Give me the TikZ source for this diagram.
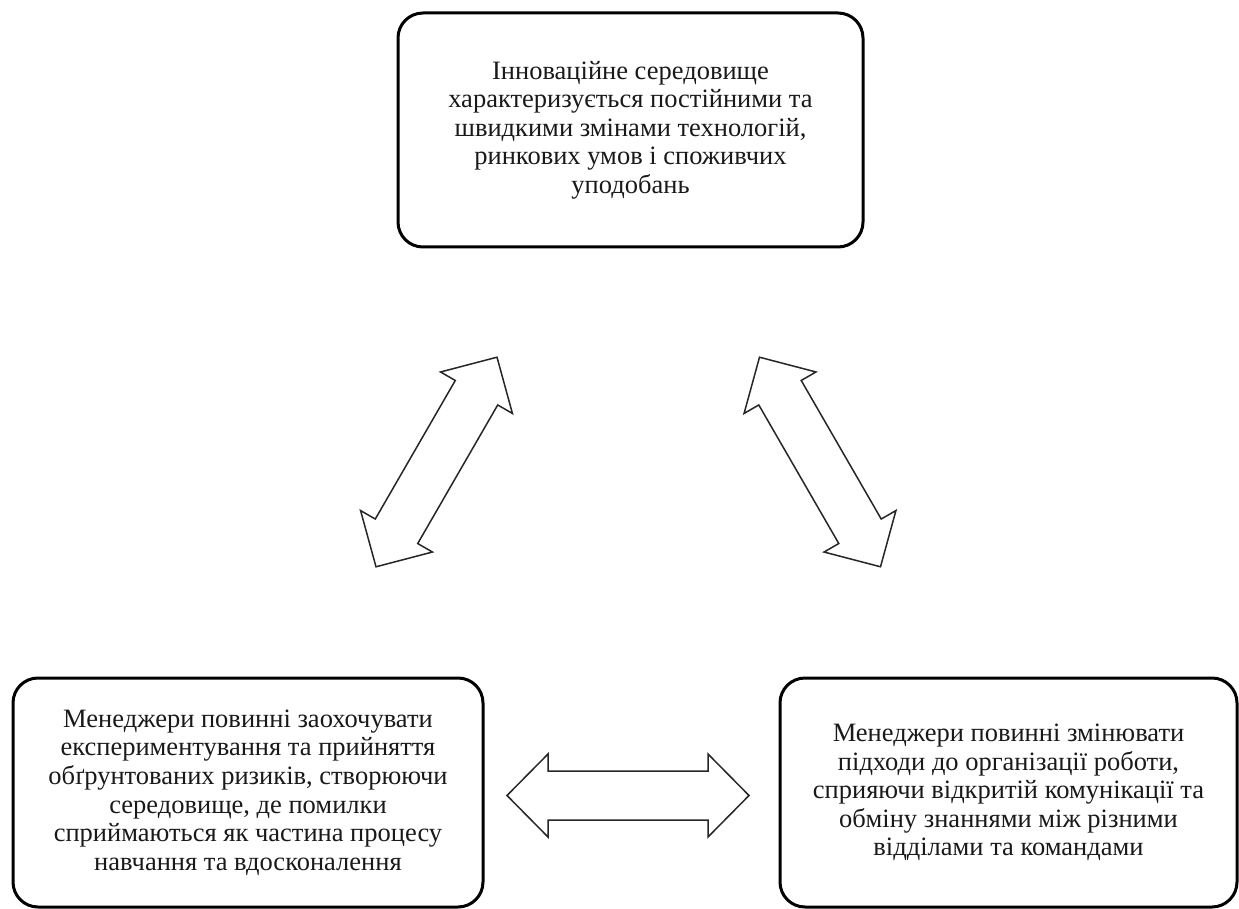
\documentclass[tikz,border=0pt]{standalone}
\usepackage{fontspec}
\setmainfont{Liberation Serif}
\begin{document}
\begin{tikzpicture}[x=1pt,y=-1pt,
  box/.style={draw=black, line width=3pt, rounded corners=25pt, align=center,
    inner sep=0pt, font=\fontsize{26.5}{28.6}\selectfont, text=black!90},
  arrowline/.style={draw=black!85, line width=1.5pt, line join=miter, fill=white}]
\useasboundingbox (0,0) rectangle (1239,909);
\node[box, minimum width=465pt, minimum height=234pt] (top) at (630.5,130)
  {Інноваційне середовище\\характеризується постійними та\\швидкими змінами технологій,\\ринкових умов і споживчих\\уподобань};
\node[box, minimum width=470pt, minimum height=229pt] (bl) at (248,792.5)
  {Менеджери повинні заохочувати\\експериментування та прийняття\\обґрунтованих ризиків, створюючи\\середовище, де помилки\\сприймаються як частина процесу\\навчання та вдосконалення};
\node[box, minimum width=457pt, minimum height=229pt] (br) at (1008.5,792.5)
  {Менеджери повинні змінювати\\підходи до організації роботи,\\сприяючи відкритій комунікації та\\обміну знаннями між різними\\відділами та командами};
\newcommand\blockarrow[3]{%
  \begin{scope}[shift={(#1,#2)},rotate=#3]
  \draw[arrowline] (-121,0) -- (-80,41.5) -- (-80,24.5) -- (80,24.5) -- (80,41.5)
    -- (121,0) -- (80,-41.5) -- (80,-24.5) -- (-80,-24.5) -- (-80,-41.5) -- cycle;
  \end{scope}}
\blockarrow{436.5}{462}{60}
\blockarrow{820}{462}{-60}
\blockarrow{628}{795.5}{0}
\end{tikzpicture}
\end{document}
